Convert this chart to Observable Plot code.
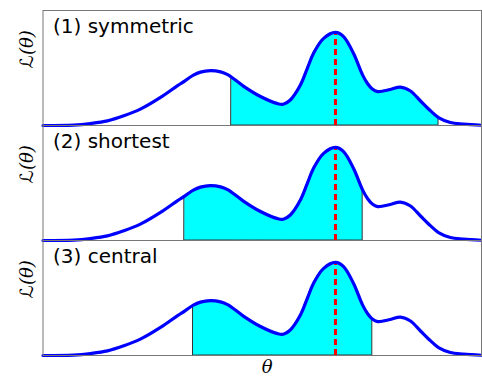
<!DOCTYPE html>
<html>
<head>
<meta charset="utf-8">
<script src="https://cdn.jsdelivr.net/npm/d3@7"></script>
<script src="https://cdn.jsdelivr.net/npm/@observablehq/plot@0.6"></script>
<style>
  html, body { margin: 0; padding: 0; background: white; }
</style>
</head>
<body>
<div id="chart"></div>
<script>
// Curve samples (theta on a 0–10 scale, likelihood on 0–1)
const theta = [0, 0.70, 1.08, 1.47, 1.84, 2.22, 2.68, 3.07, 3.23, 3.43, 3.59, 3.82, 4.05, 4.21, 4.30, 4.57, 4.96, 5.35, 5.48, 5.64, 5.87, 6.03, 6.17, 6.40, 6.67, 6.85, 7.08, 7.24, 7.29, 7.40, 7.51, 7.63, 7.92, 8.15, 8.38, 8.61, 8.84, 9.02, 9.29, 9.59, 10];
const like  = [0, 0.004, 0.017, 0.040, 0.084, 0.142, 0.244, 0.347, 0.386, 0.438, 0.464, 0.477, 0.466, 0.442, 0.420, 0.343, 0.252, 0.190, 0.185, 0.222, 0.352, 0.499, 0.628, 0.758, 0.810, 0.775, 0.628, 0.481, 0.438, 0.365, 0.317, 0.295, 0.313, 0.334, 0.300, 0.213, 0.127, 0.069, 0.026, 0.012, 0.002];

// Interval methods and their bounds
const methods = ["(1) symmetric", "(2) shortest", "(3) central"];
const lower = [4.30, 3.23, 3.43];
const upper = [9.02, 7.29, 7.51];

// Mode of the likelihood
const modeTheta = 6.67;
const modeLike = 0.81;

const curve = theta.map((t, i) => ({theta: t, L: like[i]}));
const shaded = methods.flatMap((m, k) =>
  curve.filter(d => d.theta >= lower[k] - 1e-9 && d.theta <= upper[k] + 1e-9)
       .map(d => ({...d, method: m})));

const chart = Plot.plot({
  width: 482,
  height: 378,
  marginTop: 9,
  marginBottom: 22,
  marginLeft: 42.5,
  marginRight: 1,
  style: {fontFamily: "DejaVu Sans", background: "white", overflow: "visible"},
  x: {domain: [0, 10], axis: null},
  y: {domain: [0, 1], axis: null},
  fy: {domain: methods, axis: null, padding: 0},
  marks: [
    Plot.areaY(shaded, {x: "theta", y: "L", fy: "method", fill: "#00ffff", stroke: "#333", strokeWidth: 1, curve: "catmull-rom"}),
    Plot.ruleX(methods, {x: () => modeTheta, y1: () => 0, y2: () => modeLike, fy: d => d, stroke: "#ff0000", strokeWidth: 3, strokeDasharray: "6,4"}),
    Plot.line(curve, {x: "theta", y: "L", stroke: "#0000ff", strokeWidth: 3.2, curve: "catmull-rom"}),
    Plot.frame({stroke: "#777", strokeWidth: 1}),
    Plot.text(methods, {text: d => d, fy: d => d, frameAnchor: "top-left", lineAnchor: "top", dx: 10, dy: 8, fontSize: 20, fill: "black", textAnchor: "start"}),
    Plot.text(methods, {text: () => "ℒ(θ)", fy: d => d, frameAnchor: "left", rotate: -90, dx: -16, fontSize: 18, fontStyle: "italic", fontFamily: "DejaVu Serif, DejaVu Sans", fill: "black"}),
    Plot.text([methods[2]], {text: () => "θ", fy: d => d, frameAnchor: "bottom", lineAnchor: "top", dx: 5, dy: 5, fontSize: 18, fontStyle: "italic", fontFamily: "DejaVu Serif", fill: "black"})
  ]
});
document.getElementById("chart").appendChild(chart);
</script>
</body>
</html>
